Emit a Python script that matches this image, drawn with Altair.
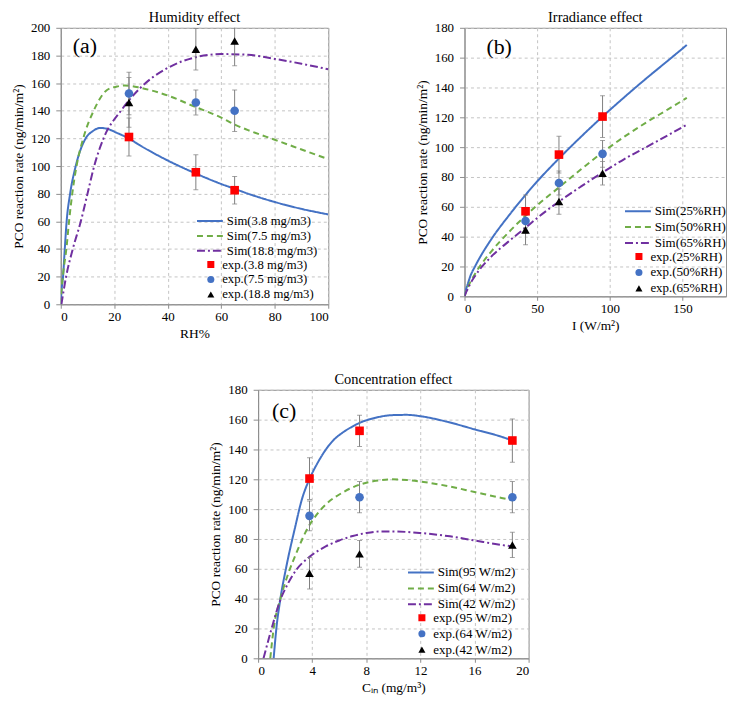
import altair as alt
import pandas as pd

FONT = "Liberation Serif"
Y_TITLE = "PCO reaction rate (ng/min/m²)"

# ---------------- Panel (a): Humidity effect ----------------
a_sim_names = ["Sim(3.8 mg/m3)", "Sim(7.5 mg/m3)", "Sim(18.8 mg/m3)"]
a_sim1_x = [0, 0.3, 0.86, 1.5, 2.2, 3.5, 5.6, 9.3, 12, 14.8, 18, 21, 25, 30, 40, 50, 60, 65, 70, 80, 90, 100]
a_sim1_y = [0, 10, 20, 40, 60, 80, 100, 120, 125.3, 127.6, 126.5, 124, 120.4, 114.5, 104, 95, 87, 83.5, 80, 74, 69, 65]
a_sim2_x = [0, 0.3, 1, 2.1, 3.1, 4.3, 5.9, 8.4, 12.3, 17.3, 21, 24, 30, 40, 50, 60, 65, 70, 80, 90, 100]
a_sim2_y = [0, 10, 24, 40, 60, 80, 100, 120, 140, 155, 157.5, 158.3, 156.5, 151, 143, 135, 130, 126, 119, 112, 105]
a_sim3_x = [0.25, 2, 4.5, 7.5, 10, 12.5, 16, 22.5, 30, 40, 50, 60, 70, 80, 90, 100]
a_sim3_y = [0, 20, 40, 60, 80, 100, 120, 140, 157, 171, 178.5, 181, 180.5, 177.5, 174, 170]
a_exp_names = ["exp.(3.8 mg/m3)", "exp.(7.5 mg/m3)", "exp.(18.8 mg/m3)"]
a_exp_x = [25.5, 50.5, 65]
a_exp1_y = [121, 95.5, 82.5]
a_exp1_err = [13.7, 12.6, 10]
a_exp2_y = [152.5, 146, 140]
a_exp2_err = [15.4, 9, 15]
a_exp3_y = [146, 184.5, 190.5]
a_exp3_err = [18, 15, 18]

# ---------------- Panel (b): Irradiance effect ----------------
b_sim_names = ["Sim(25%RH)", "Sim(50%RH)", "Sim(65%RH)"]
b_sim_x = [0, 1, 2, 4, 7.5, 18.8, 30, 42, 50, 65, 80, 95, 110, 125, 140, 153]
b_sim1_y = [0, 4.5, 7.5, 13.5, 20.5, 38.8, 53.5, 68, 77, 92.4, 106.8, 120.5, 133.5, 146, 158, 168.5]
b_sim2_y = [0, 3, 5.5, 9.5, 15.5, 30.5, 42.5, 54, 61, 73, 85, 96.5, 107, 116.5, 125.3, 133]
b_sim3_y = [0, 2.5, 4.5, 8.5, 14, 27, 36.5, 46, 52.5, 63.5, 73.5, 83, 92, 100, 108, 115]
b_exp_names = ["exp.(25%RH)", "exp.(50%RH)", "exp.(65%RH)"]
b_exp_x = [42, 65, 95]
b_exp1_y = [57, 95, 120.5]
b_exp1_err = [11, 12.3, 14]
b_exp2_y = [50.5, 76, 95.5]
b_exp2_err = [8, 8, 9]
b_exp3_y = [44.5, 63.5, 82.5]
b_exp3_err = [10, 8.5, 7.8]

# ---------------- Panel (c): Concentration effect ----------------
c_sim_names = ["Sim(95 W/m2)", "Sim(64 W/m2)", "Sim(42 W/m2)"]
c_sim1_x = [1.15, 1.35, 1.65, 2.1, 2.74, 3.22, 3.84, 4.4, 5.05, 5.6, 6.28, 7.0, 7.5, 8.7, 9.9, 11, 12, 14, 16, 18, 18.8]
c_sim1_y = [0, 20, 40, 62, 88, 106, 121, 131, 140.5, 146.5, 151.5, 155.5, 157.8, 161.3, 163, 163.2, 162.3, 158.5, 153.5, 148.5, 146]
c_sim2_x = [0.9, 1.15, 1.65, 2.2, 2.8, 3.71, 4.3, 5.05, 6.28, 7.5, 8.7, 9.9, 11, 12, 14, 16, 18, 18.8]
c_sim2_y = [0, 20, 40, 56, 70, 88, 96, 103.5, 111.3, 116.4, 119, 120, 119.5, 118.5, 115.5, 111.5, 107.5, 106]
c_sim3_x = [0.4, 1.0, 1.6, 2.2, 2.8, 3.8, 5, 6, 7, 8, 9, 10, 11, 12, 14, 16, 18, 18.8]
c_sim3_y = [0, 20, 38, 50, 59, 68, 75, 79, 82, 84, 85, 85, 84.7, 84, 82, 79, 76, 75]
c_exp_names = ["exp.(95 W/m2)", "exp.(64 W/m2)", "exp.(42 W/m2)"]
c_exp_x = [3.8, 7.5, 18.8]
c_exp1_y = [120.5, 152.5, 146]
c_exp1_err = [14, 10.5, 14.5]
c_exp2_y = [95.5, 108, 108]
c_exp2_err = [10, 10.5, 10.5]
c_exp3_y = [57, 70, 76]
c_exp3_err = [10.5, 9, 8.5]

SIM_COLORS = ["#4472C4", "#70AD47", "#7030A0"]
EXP_COLORS = ["#FF0000", "#4472C4", "#000000"]
DASHES = [[1, 0], [6, 4], [8, 3, 2, 3]]
SHAPES = ["square", "circle", "triangle-up"]
ERR_COLOR = "#7f7f7f"
GRID = "#c4c4c4"
FRAME = "#8c8c8c"

axis_common = dict(
    grid=True, gridDash=[3, 3], gridColor=GRID, gridWidth=1,
    domainColor=FRAME, tickColor=FRAME,
    labelFont=FONT, labelFontSize=13, labelColor="black",
    titleFont=FONT, titleFontSize=13.5, titleFontWeight="normal", titleColor="black",
)


def make_panel(title, sim_names, sims, exp_names, exp_x, exps, xdom, xticks, ydom,
               yticks, xtitle, tag, tag_xy, w, h, leg_xy, row_h, leg_fs):
    rows = []
    for name, (xs_, ys_) in zip(sim_names, sims):
        for i, (xv, yv) in enumerate(zip(xs_, ys_)):
            rows.append({"series": name, "x": xv, "y": yv, "i": i})
    df_sim = pd.DataFrame(rows)
    rows = []
    for name, (ys_, es_) in zip(exp_names, exps):
        for xv, yv, ev in zip(exp_x, ys_, es_):
            rows.append({"series": name, "x": xv, "y": yv, "lo": yv - ev, "hi": yv + ev})
    df_exp = pd.DataFrame(rows)

    xs = alt.Scale(domain=xdom, nice=False, zero=False)
    ys = alt.Scale(domain=ydom, nice=False, zero=False)
    xax = alt.Axis(values=xticks, title=xtitle, tickSize=4, labelPadding=2, titlePadding=3,
                   **axis_common)
    yax = alt.Axis(values=yticks, title=Y_TITLE, tickSize=5, labelPadding=6, titlePadding=5,
                   **axis_common)

    lx, ly = leg_xy
    leg_lines = alt.Legend(
        orient="none", legendX=lx, legendY=ly, symbolType="stroke", symbolSize=676,
        symbolStrokeWidth=2, clipHeight=row_h, rowPadding=0, labelOffset=3,
        labelFont=FONT, labelFontSize=leg_fs, labelColor="black", padding=0,
    )
    leg_pts = alt.Legend(
        orient="none", legendX=lx + 8.5, legendY=ly + 3 * row_h, symbolSize=50,
        clipHeight=row_h, rowPadding=0, labelOffset=5, symbolStrokeWidth=0,
        labelFont=FONT, labelFontSize=leg_fs, labelColor="black", padding=0,
    )

    lines = alt.Chart(df_sim).mark_line(strokeWidth=2, interpolate="monotone", clip=True).encode(
        x=alt.X("x:Q", scale=xs, axis=xax),
        y=alt.Y("y:Q", scale=ys, axis=yax),
        color=alt.Color("series:N", scale=alt.Scale(domain=sim_names, range=SIM_COLORS),
                        legend=leg_lines, title=None),
        strokeDash=alt.StrokeDash("series:N", scale=alt.Scale(domain=sim_names, range=DASHES),
                                  legend=leg_lines, title=None),
        order="i:Q",
    )
    base_e = alt.Chart(df_exp)
    bars = base_e.mark_rule(color=ERR_COLOR, strokeWidth=1, clip=True).encode(
        x=alt.X("x:Q", scale=xs, axis=xax),
        y=alt.Y("lo:Q", scale=ys, axis=yax),
        y2="hi:Q",
    )
    cap_lo = base_e.mark_tick(color=ERR_COLOR, orient="horizontal", size=5, thickness=1, clip=True).encode(
        x=alt.X("x:Q", scale=xs, axis=xax),
        y=alt.Y("lo:Q", scale=ys, axis=yax),
    )
    cap_hi = base_e.mark_tick(color=ERR_COLOR, orient="horizontal", size=5, thickness=1, clip=True).encode(
        x=alt.X("x:Q", scale=xs, axis=xax),
        y=alt.Y("hi:Q", scale=ys, axis=yax),
    )
    pts = base_e.mark_point(filled=True, size=75, opacity=1).encode(
        x=alt.X("x:Q", scale=xs, axis=xax),
        y=alt.Y("y:Q", scale=ys, axis=yax),
        color=alt.Color("series:N", scale=alt.Scale(domain=exp_names, range=EXP_COLORS),
                        legend=leg_pts, title=None),
        shape=alt.Shape("series:N", scale=alt.Scale(domain=exp_names, range=SHAPES),
                        legend=leg_pts, title=None),
    )
    tag_chart = alt.Chart(pd.DataFrame({"t": [tag]})).mark_text(
        font=FONT, fontSize=22, align="left", baseline="middle", color="black"
    ).encode(text="t:N", x=alt.value(tag_xy[0]), y=alt.value(tag_xy[1]))

    return alt.layer(lines, bars, cap_lo, cap_hi, pts, tag_chart).resolve_scale(
        color="independent", strokeDash="independent", shape="independent"
    ).properties(width=w, height=h, title=alt.Title(title))


pa = make_panel(
    "Humidity effect", a_sim_names,
    [(a_sim1_x, a_sim1_y), (a_sim2_x, a_sim2_y), (a_sim3_x, a_sim3_y)],
    a_exp_names, a_exp_x,
    [(a_exp1_y, a_exp1_err), (a_exp2_y, a_exp2_err), (a_exp3_y, a_exp3_err)],
    [0, 100], [0, 20, 40, 60, 80, 100], [0, 200], list(range(0, 201, 20)),
    "RH%", "(a)", (12, 18.5), 269, 278, (136, 187), 14.6, 12.8,
)
pb = make_panel(
    "Irradiance effect", b_sim_names,
    [(b_sim_x, b_sim1_y), (b_sim_x, b_sim2_y), (b_sim_x, b_sim3_y)],
    b_exp_names, b_exp_x,
    [(b_exp1_y, b_exp1_err), (b_exp2_y, b_exp2_err), (b_exp3_y, b_exp3_err)],
    [0, 180], [0, 50, 100, 150], [0, 180], list(range(0, 181, 20)),
    "I (W/m²)", "(b)", (22, 19.5), 263, 270, (160.4, 176.8), 15.2, 13,
)
pc = make_panel(
    "Concentration effect", c_sim_names,
    [(c_sim1_x, c_sim1_y), (c_sim2_x, c_sim2_y), (c_sim3_x, c_sim3_y)],
    c_exp_names, c_exp_x,
    [(c_exp1_y, c_exp1_err), (c_exp2_y, c_exp2_err), (c_exp3_y, c_exp3_err)],
    [0, 20], [0, 4, 8, 12, 16, 20], [0, 180], list(range(0, 181, 20)),
    "Cᵢₙ (mg/m³)", "(c)", (14, 21.5), 272, 270, (149.7, 176.1), 15.2, 13,
)

top = alt.hconcat(pa, pb, spacing=86)
chart = alt.vconcat(top, pc, spacing=32, center=True).properties(
    padding={"left": 3, "top": 0, "right": 0, "bottom": 2}
).configure_view(stroke=FRAME, strokeWidth=1).configure_title(
    font=FONT, fontSize=14.5, fontWeight="normal", color="black", offset=-4
)

chart.save("out.html", embed_options={"renderer": "svg", "actions": False})
